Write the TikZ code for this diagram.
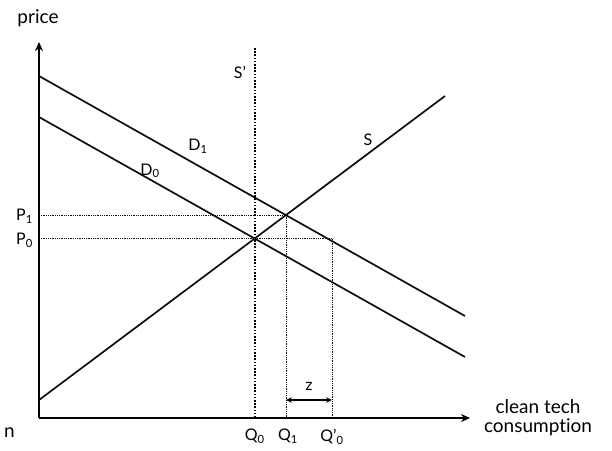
\documentclass[tikz,border=0pt]{standalone}
\usepackage{fontspec}
\setmainfont{Lato}[Ligatures=NoCommon]
\usetikzlibrary{arrows.meta,calc}
\def\normaledge{1.7}
\def\axisedge{2.1}
\definecolor{edgeblack}{rgb}{0.05,0.05,0.05}
\tikzset{
  lbl/.style={font=\fontsize{16}{18}\selectfont, inner sep=1pt},
  axlbl/.style={font=\fontsize{19}{21}\selectfont, inner sep=1pt},
  guide/.style={line width=.6, dash pattern=on .9pt off .9pt, color=edgeblack},
}
\begin{document}
\begin{tikzpicture}[x = 1pt, y = -1pt]
        \useasboundingbox (0,0) rectangle (612,450);

            \coordinate (0) at (39,418);
            \coordinate (ytop) at (39,42);
            \coordinate (xend) at (470,418);
        \draw [line width=\axisedge, -{Stealth[length=9pt,width=8pt]}] (0) -- (ytop);
        \draw [line width=\axisedge, -{Stealth[length=9pt,width=8pt]}] (0) -- (xend);
        \node [axlbl] (price) at (38,18) {price};
        \node [axlbl, align=center] (ctc) at (538,418) {clean tech\\[-2pt]consumption};
        \node [axlbl, anchor=west] (cut) at (3,433) {n};

        % supply and demand
            \coordinate (s1) at (39,400);
            \coordinate (s2) at (445,96);
            \coordinate (d11) at (39,76);
            \coordinate (d12) at (465,316);
            \coordinate (d01) at (39,117);
            \coordinate (d02) at (465,357);
        \draw [line width=\normaledge,color=edgeblack] (s1) -- (s2);
        \draw [line width=\normaledge,color=edgeblack] (d11) -- (d12);
        \draw [line width=\normaledge,color=edgeblack] (d01) -- (d02);

        \node [lbl] (S) at (368,140) {S};
        \node [lbl] (D1) at (198,146) {D\textsubscript{1}};
        \node [lbl] (D0) at (150,171) {D\textsubscript{0}};

            \coordinate (e0) at (intersection of d01--d02 and s1--s2);
            \coordinate (e1) at (intersection of d11--d12 and s1--s2);
            \coordinate (e2) at (332,0 |- e0);

        % vertical supply
            \coordinate (sp) at (e0 |- 0,48);
        \draw [line width=1.8, dash pattern=on 1.6pt off 1.6pt] (sp) -- (e0 |- 0);
        \node [lbl] (Sp) at (240,72) {S'};

        % guides
        \draw [guide] (0 |- e1) -- (e1) -- (e1 |- 0);
        \draw [guide] (0 |- e0) -- (e2) -- (e2 |- 0);

        \node [lbl, anchor=east] (P1) at ($(0 |- e1) + (-5,1)$) {P\textsubscript{1}};
        \node [lbl, anchor=east] (P0) at ($(0 |- e0) + (-5,2)$) {P\textsubscript{0}};
        \node [lbl, anchor=north] (Q0) at ($(e0 |- 0) + (0,10)$) {Q\textsubscript{0}};
        \node [lbl, anchor=north] (Q1) at ($(e1 |- 0) + (2,10)$) {Q\textsubscript{1}};
        \node [lbl, anchor=north] (Qp0) at ($(e2 |- 0) + (0,10)$) {Q'\textsubscript{0}};

            \coordinate (za) at (e1 |- 0,400);
            \coordinate (zb) at (e2 |- 0,400);
        \draw [line width=1.1, {Stealth[length=6pt,width=5.5pt]}-{Stealth[length=6pt,width=5.5pt]}] (za) -- (zb);
        \node [lbl] (z) at ($(za)!0.5!(zb) + (0,-14)$) {z};

        \end{tikzpicture}
\end{document}
